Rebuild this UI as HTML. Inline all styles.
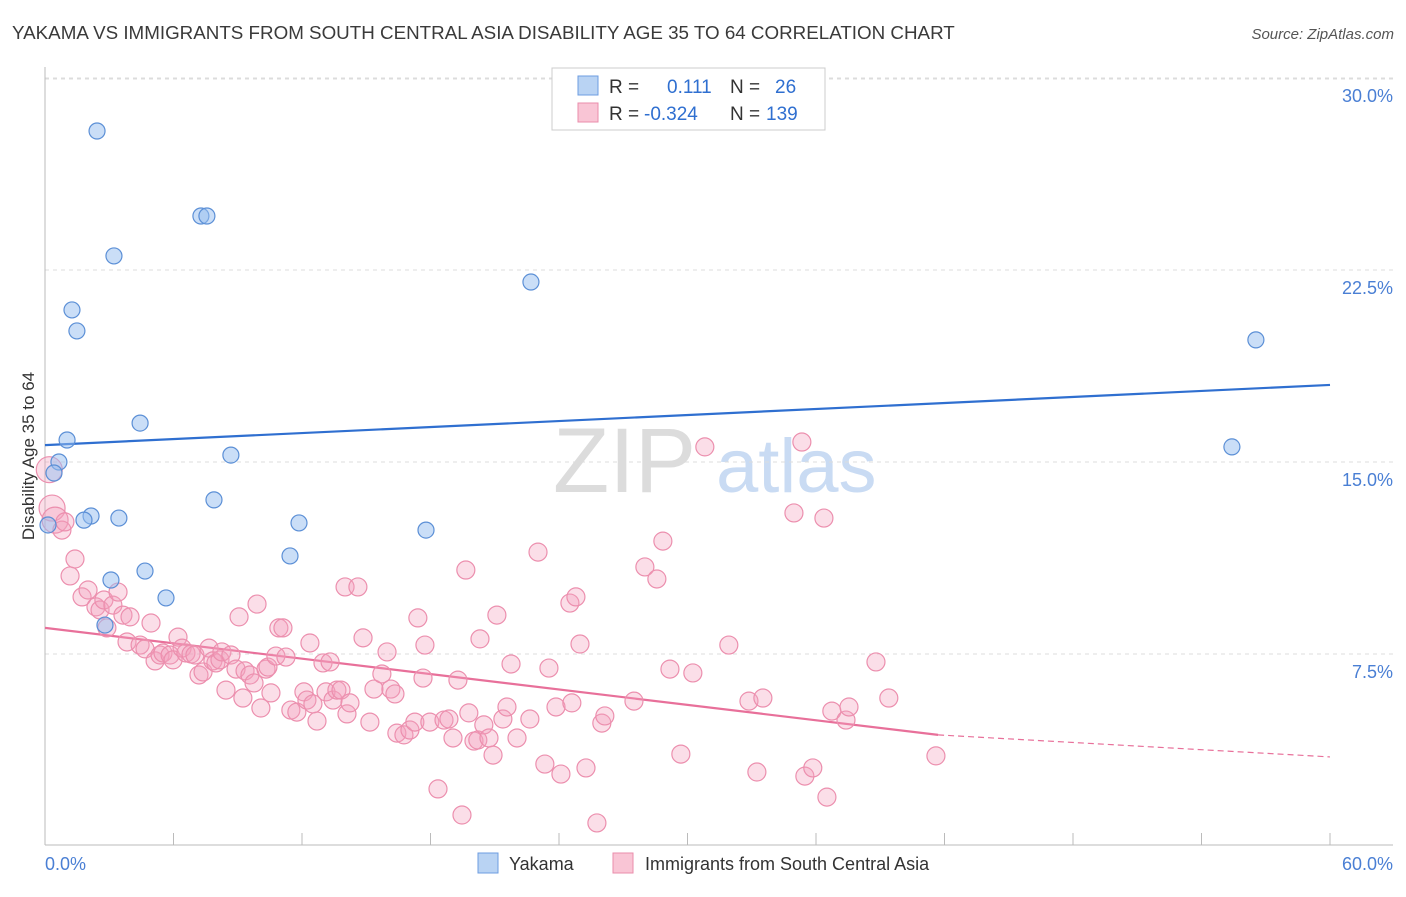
<!DOCTYPE html>
<html><head><meta charset="utf-8"><style>
body{margin:0;background:#fff;font-family:"Liberation Sans",sans-serif}
svg text{font-family:"Liberation Sans",sans-serif}
</style></head><body>
<svg id="chart" width="1406" height="892" viewBox="0 0 1406 892" xmlns="http://www.w3.org/2000/svg">
<text x="12" y="39" font-size="18.8" fill="#3a3a3a">YAKAMA VS IMMIGRANTS FROM SOUTH CENTRAL ASIA DISABILITY AGE 35 TO 64 CORRELATION CHART</text>
<text x="1394" y="39" font-size="15" fill="#555" text-anchor="end" font-style="italic">Source: ZipAtlas.com</text>
<g>
<text x="553" y="492" font-size="92" fill="#dcdcdc" font-family="Liberation Serif,serif">ZIP</text>
<text x="716" y="492" font-size="76" fill="#c9dbf3">atlas</text>
</g>
<g id="grid"></g><g id="axes"></g><g id="lines"></g><g id="pts"></g>
<text x="34" y="456" font-size="17" fill="#333" text-anchor="middle" transform="rotate(-90 34 456)">Disability Age 35 to 64</text>
<text x="45" y="870" font-size="18" fill="#4a7fd4">0.0%</text>
<text x="1393" y="870" font-size="18" fill="#4a7fd4" text-anchor="end">60.0%</text>
<g>
<rect x="552" y="68" width="273" height="62" fill="#fff" stroke="#ccc"/>
<rect x="578" y="76" width="20" height="19" fill="#b9d3f3" stroke="#6d9de0"/>
<rect x="578" y="103" width="20" height="19" fill="#f9c5d5" stroke="#ea8dab"/>
<text x="609" y="93" font-size="19" fill="#333">R = <tspan fill="#2f6fd0" x="667">0.111</tspan><tspan fill="#333" x="730">N = </tspan><tspan fill="#2f6fd0" x="775">26</tspan></text>
<text x="609" y="120" font-size="19" fill="#333">R = <tspan fill="#2f6fd0" x="644">-0.324</tspan><tspan fill="#333" x="730">N = </tspan><tspan fill="#2f6fd0" x="766">139</tspan></text>
</g>
<g>
<rect x="478" y="853" width="20" height="20" fill="#b9d3f3" stroke="#6d9de0"/>
<text x="509" y="870" font-size="18" fill="#333">Yakama</text>
<rect x="613" y="853" width="20" height="20" fill="#f9c5d5" stroke="#ea8dab"/>
<text x="645" y="870" font-size="18" fill="#333">Immigrants from South Central Asia</text>
</g>
</svg>
<script>
const yTicks=[7.5,15,22.5,30];
const yTickLabels=["7.5%","15.0%","22.5%","30.0%"];
const xTicks=[0,6,12,18,24,30,36,42,48,54,60];
const blueX=[2.43,7.28,7.56,3.22,22.69,1.26,1.49,56.54,4.44,1.03,8.68,0.65,0.42,55.42,7.89,2.15,1.82,3.45,0.14,11.86,17.79,11.44,4.67,3.08,5.65,2.8];
const blueY=[27.93,24.61,24.61,23.05,22.03,20.94,20.12,19.77,16.52,15.86,15.27,15.0,14.57,15.59,13.52,12.89,12.73,12.81,12.54,12.62,12.34,11.33,10.74,10.39,9.69,8.63];
const pinkX=[0.2,0.33,0.47,0.79,0.93,1.40,1.17,1.73,2.01,2.38,2.57,2.75,3.17,3.41,3.64,2.89,3.97,3.83,4.44,4.67,4.95,5.14,5.37,5.51,5.84,5.98,6.21,6.40,6.58,6.82,7.00,7.19,7.38,7.66,7.84,7.98,8.17,8.26,8.45,8.68,8.92,9.06,9.24,9.34,9.57,9.76,9.90,10.08,10.32,10.41,10.55,10.92,11.11,10.78,11.25,11.48,11.76,12.09,12.23,12.37,12.51,12.70,12.98,13.12,13.31,13.45,13.63,13.82,14.10,14.24,14.01,14.61,14.85,15.17,15.36,15.73,15.97,16.15,16.34,16.43,16.76,17.04,17.27,17.41,17.65,17.74,17.97,18.35,18.63,18.86,19.05,19.28,19.47,19.65,19.79,20.03,20.21,20.31,20.49,20.73,20.92,21.10,21.38,21.57,21.76,22.04,22.64,23.02,23.34,23.53,23.86,24.09,24.51,24.60,24.79,24.98,25.26,25.77,26.00,26.14,27.50,28.01,28.57,28.85,29.18,29.69,30.25,30.81,31.93,32.87,33.24,33.52,34.97,35.34,35.48,35.85,36.37,36.51,36.74,37.40,37.54,38.80,39.40,41.60];
const pinkY=[14.7,13.20,12.73,12.34,12.66,11.21,10.55,9.73,10.0,9.34,9.22,9.61,9.41,9.92,9.02,8.52,8.95,7.97,7.85,7.70,8.71,7.23,7.46,7.54,7.46,7.27,8.16,7.73,7.54,7.50,7.46,6.68,6.80,7.73,7.23,7.15,7.27,7.58,6.09,7.46,6.91,8.95,5.78,6.84,6.68,6.37,9.45,5.39,6.91,6.99,5.98,8.52,8.52,7.42,7.38,5.31,5.23,6.02,5.70,7.93,5.55,4.88,7.15,6.02,7.19,5.70,6.09,6.09,5.16,5.59,10.12,10.12,8.13,4.84,6.13,6.72,7.58,6.13,5.94,4.41,4.34,4.53,4.84,8.91,6.56,7.85,4.84,2.23,4.92,4.96,4.22,6.48,1.21,10.78,5.20,4.10,4.14,8.09,4.73,4.22,3.55,9.02,4.96,5.43,7.11,4.22,4.96,11.48,3.20,6.95,5.43,2.81,9.49,5.59,9.73,7.89,3.05,0.90,4.80,5.08,5.66,10.90,10.43,11.91,6.91,3.59,6.76,15.59,7.85,5.66,2.89,5.78,13.01,15.78,2.73,3.05,12.81,1.91,5.27,4.92,5.43,7.19,5.78,3.52];
const blueLine=[15.66,18.01];
const pinkLine=[8.52,4.34,3.48];
const pinkSolidEnd=41.7;

const NS="http://www.w3.org/2000/svg";
const X=v=>45+v*(1285/60);
const Y=v=>846-v*25.6;
function mk(tag,attrs,parent){const e=document.createElementNS(NS,tag);for(const k in attrs)e.setAttribute(k,attrs[k]);document.getElementById(parent).appendChild(e);return e;}

yTicks.forEach((t,i)=>{
  const l=mk('line',{x1:45,x2:1393,y1:Y(t),y2:Y(t),stroke:'#dcdcdc','stroke-dasharray':'4 4'},'grid');
  
  
  const tx=mk('text',{x:1393,y:Y(t)+24,'font-size':18,fill:'#4a7fd4','text-anchor':'end'},'grid');
  tx.textContent=yTickLabels[i];
  
  
});
const topGrid=mk('line',{x1:45,x2:1393,y1:79,y2:79,stroke:'#dcdcdc','stroke-dasharray':'4 4'},'grid');


const ax=mk('line',{x1:45,x2:1393,y1:845,y2:845,stroke:'#bbb'},'axes');


const ay=mk('line',{x1:45,x2:45,y1:67,y2:845,stroke:'#bbb'},'axes');


xTicks.forEach(t=>{
  const l=mk('line',{x1:X(t),x2:X(t),y1:833,y2:845,stroke:'#bbb'},'axes');
  
  
});

pinkX.forEach((x,i)=>{
  const c=mk('circle',{cx:X(x),cy:Y(pinkY[i]),r:i<3?13:9,fill:'rgba(244,160,188,0.35)',stroke:'#ec8fae','stroke-width':1.2},'pts');
  
  
});
blueX.forEach((x,i)=>{
  const c=mk('circle',{cx:X(x),cy:Y(blueY[i]),r:8,fill:'rgba(150,190,240,0.5)',stroke:'#5b8fd6','stroke-width':1.2},'pts');
  
  
});
const bl=mk('line',{x1:X(0),y1:Y(blueLine[0]),x2:X(60),y2:Y(blueLine[1]),stroke:'#2f6fd0','stroke-width':2.2},'lines');


const pl=mk('line',{x1:X(0),y1:Y(pinkLine[0]),x2:X(pinkSolidEnd),y2:Y(pinkLine[1]),stroke:'#e8709a','stroke-width':2.2},'lines');


const pd=mk('line',{x1:X(pinkSolidEnd),y1:Y(pinkLine[1]),x2:X(60),y2:Y(pinkLine[2]),stroke:'#e8709a','stroke-width':1.2,'stroke-dasharray':'6 4'},'lines');


</script>
</body></html>
